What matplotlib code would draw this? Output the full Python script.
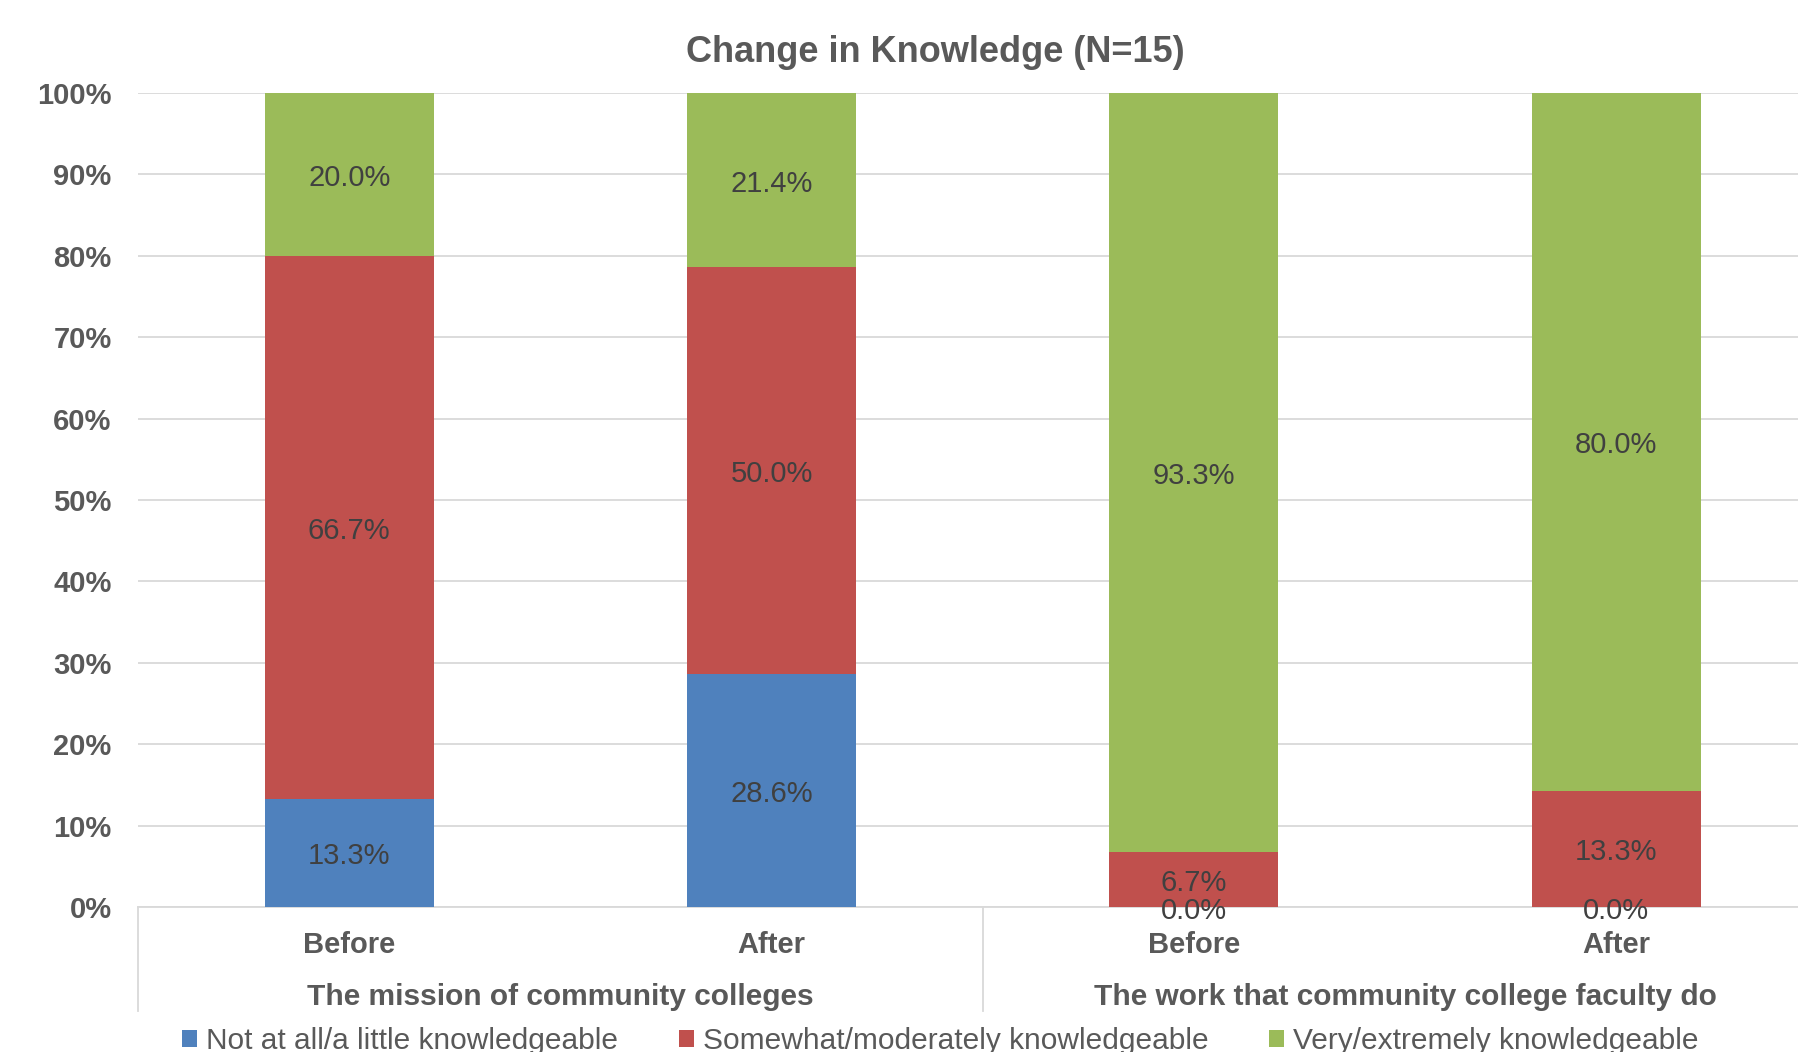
import matplotlib
matplotlib.use("Agg")
import matplotlib.pyplot as plt
import numpy as np
from matplotlib.ticker import PercentFormatter

plt.rcParams["font.family"] = ["Liberation Sans", "DejaVu Sans"]

# Survey results (percent of respondents, as labelled on the chart)
categories = ["Before", "After", "Before", "After"]
groups = ["The mission of community colleges",
          "The work that community college faculty do"]
series_names = ["Not at all/a little knowledgeable",
                "Somewhat/moderately knowledgeable",
                "Very/extremely knowledgeable"]
not_at_all = [13.3, 28.6, 0.0, 0.0]
somewhat = [66.7, 50.0, 6.7, 13.3]
very = [20.0, 21.4, 93.3, 80.0]

colors = ["#4F81BD", "#C0504D", "#9BBB59"]
text_gray = "#595959"
label_gray = "#404040"
grid_gray = "#D9D9D9"

series = [np.array(not_at_all), np.array(somewhat), np.array(very)]
totals = sum(series)
# 100% stacked: heights are shares of each bar's total
shares = [s / totals * 100 for s in series]

fig = plt.figure(figsize=(17.98, 10.52), dpi=100)
ax = fig.add_axes([0.0768, 0.1378, 0.9395, 0.7738])

x = np.arange(len(categories))
bottom = np.zeros(len(categories))
containers = []
for name, share, raw, c in zip(series_names, shares, series, colors):
    bars = ax.bar(x, share, 0.4, bottom=bottom, color=c, label=name, zorder=3)
    anns = ax.bar_label(bars, labels=[f"{v:.1f}%" for v in raw],
                        label_type="center", fontsize=21, color=label_gray,
                        zorder=4)
    for a in anns:
        a.xyann = (0, -2.5)  # Excel sits labels a touch lower
    containers.append(bars)
    bottom += share

ax.set_xlim(-0.5, len(categories) - 0.5)
ax.set_ylim(0, 100)
ax.set_yticks(np.arange(0, 101, 10))
ax.yaxis.set_major_formatter(PercentFormatter(decimals=0))
ax.grid(axis="y", color=grid_gray, linewidth=1.3, zorder=0)
for side in ["top", "right", "left"]:
    ax.spines[side].set_visible(False)
ax.spines["bottom"].set_color(grid_gray)
ax.spines["bottom"].set_linewidth(1.3)
ax.tick_params(axis="y", length=0, pad=19, labelsize=21, labelcolor=text_gray)
for lbl in ax.get_yticklabels():
    lbl.set_fontweight("bold")

ax.set_xticks(x)
ax.set_xticklabels(categories, fontsize=21, fontweight="bold", color=text_gray)
ax.tick_params(axis="x", length=0, pad=17.5)

# group labels and separators of the two-level category axis
trans = ax.get_xaxis_transform()
for i, g in enumerate(groups):
    ax.text(2 * i + 0.5, -0.111, g, transform=trans, ha="center", va="center",
            fontsize=21.5, fontweight="bold", color=text_gray)
for xs in [-0.5, 1.5]:
    ax.plot([xs, xs], [0, -0.128], transform=trans, color=grid_gray,
            linewidth=1.3, clip_on=False)

fig.text(0.52, 0.950, "Change in Knowledge (N=15)", ha="center", va="center",
         fontsize=26, fontweight="bold", color=text_gray)

fig.legend(handles=containers, loc="center", bbox_to_anchor=(0.523, 0.010),
           ncol=3, frameon=False, fontsize=21.5, handlelength=0.5,
           handleheight=0.5, handletextpad=0.3, columnspacing=2.03,
           labelcolor=text_gray)

fig.savefig("out.png", dpi=100)
